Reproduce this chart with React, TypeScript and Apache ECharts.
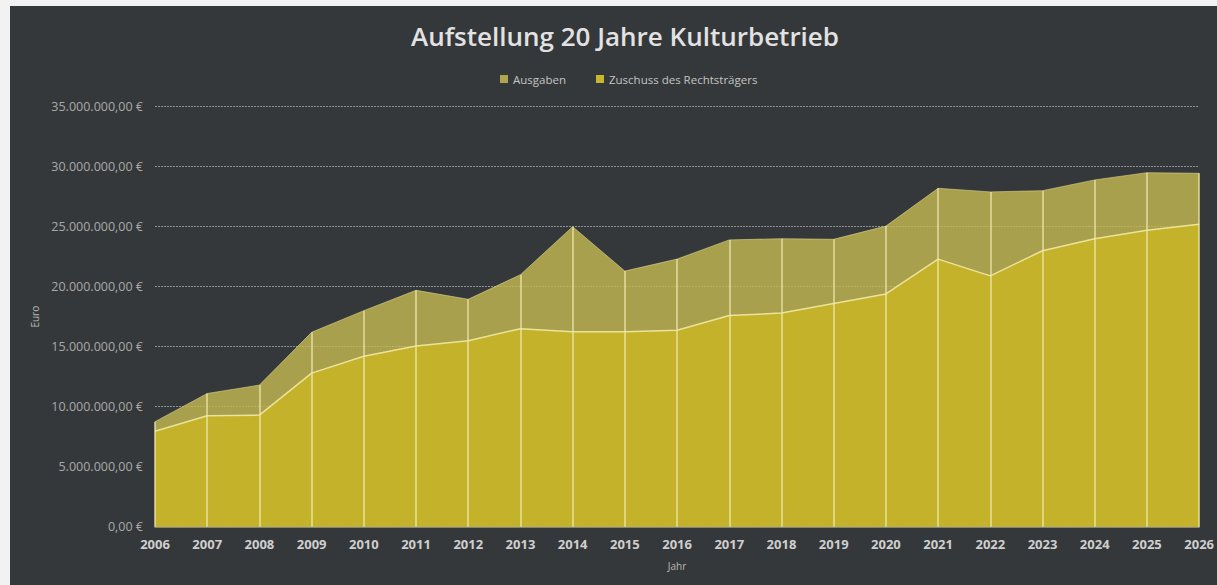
import React, { useEffect, useRef } from "react";
import * as echarts from "echarts";

const years = ["2006","2007","2008","2009","2010","2011","2012","2013","2014","2015","2016","2017","2018","2019","2020","2021","2022","2023","2024","2025","2026"];
const ausgaben = [8.75, 11.1, 11.8, 16.2, 18.0, 19.7, 18.95, 21.0, 25.0, 21.3, 22.3, 23.9, 24.0, 23.95, 25.05, 28.2, 27.9, 28.0, 28.9, 29.5, 29.45].map(v => v * 1e6);
const zuschuss = [7.95, 9.25, 9.3, 12.8, 14.2, 15.06, 15.5, 16.5, 16.25, 16.25, 16.37, 17.6, 17.8, 18.6, 19.4, 22.3, 20.9, 23.0, 24.0, 24.7, 25.2].map(v => v * 1e6);
const seriesNames = ["Ausgaben", "Zuschuss des Rechtsträgers"];
const titleText = "Aufstellung 20 Jahre Kulturbetrieb";

function fmtEuro(v: number): string {
  const whole = Math.round(v).toString();
  const grouped = whole.replace(/\B(?=(\d{3})+(?!\d))/g, ".");
  return grouped + ",00 €";
}

export default function App() {
  const ref = useRef<HTMLDivElement>(null);
  useEffect(() => {
    document.body.style.margin = "0";
    const chart = echarts.init(ref.current!, undefined, { renderer: "svg" });
    const font = "'Open Sans', 'Noto Sans', sans-serif";
    chart.setOption({
      animation: false,
      backgroundColor: "#35383a",
      textStyle: { fontFamily: font },
      title: {
        text: titleText,
        left: 396,
        top: 12,
        textStyle: { color: "#e2e2e2", fontSize: 26, fontWeight: 600, fontFamily: font },
      },
      legend: {
        top: 62,
        left: 485,
        icon: "rect",
        itemWidth: 8,
        itemHeight: 8,
        itemGap: 30,
        textStyle: { color: "#c4c4c4", fontSize: 11.5, fontFamily: font },
        data: seriesNames,
      },
      grid: { left: 145, right: 14, top: 100.7, bottom: 58.3, containLabel: false },
      xAxis: {
        type: "category",
        data: years,
        boundaryGap: false,
        name: "Jahr",
        nameLocation: "middle",
        nameGap: 34,
        nameTextStyle: { color: "#b8b8b8", fontSize: 10 },
        axisLine: { lineStyle: { color: "#9a9c9e", width: 1.5 } },
        axisTick: { show: false },
        axisLabel: { color: "#cfcfcf", fontSize: 13, fontWeight: "bold", margin: 11 },
        splitLine: { show: false },
      },
      yAxis: {
        type: "value",
        min: 0,
        max: 35000000,
        interval: 5000000,
        name: "Euro",
        nameLocation: "middle",
        nameGap: 115,
        nameTextStyle: { color: "#b8b8b8", fontSize: 10 },
        axisLine: { show: false },
        axisTick: { show: false },
        axisLabel: { color: "#a9a9a9", fontSize: 12.5, margin: 12, formatter: (v: number) => fmtEuro(v) },
        splitLine: { lineStyle: { color: "#8e9092", type: [2, 1], width: 1 } },
      },
      series: [
        {
          name: seriesNames[0],
          type: "line",
          data: ausgaben,
          symbol: "none",
          color: "#b0a64e",
          lineStyle: { color: "rgba(225,215,140,0.6)", width: 1 },
          areaStyle: { color: "rgba(197,186,83,0.8)", opacity: 1 },
          z: 2,
        },
        {
          name: seriesNames[1],
          type: "line",
          data: zuschuss,
          symbol: "none",
          color: "#c8b62c",
          lineStyle: { color: "#ece39a", width: 1.5 },
          areaStyle: { color: "#c4b22a", opacity: 1 },
          z: 3,
          markLine: {
            silent: true,
            symbol: ["none", "none"],
            label: { show: false },
            lineStyle: { color: "rgba(240,232,175,0.85)", type: "solid", width: 1.5 },
            data: years.map((y, i) => [
              { coord: [y, 0] },
              { coord: [y, ausgaben[i]] },
            ]),
          },
        },
      ],
    });
    return () => chart.dispose();
  }, []);
  return (
    <div style={{ position: "relative", width: 1217, height: 585, background: "#f2f2f2", overflow: "hidden" }}>
      <div ref={ref} style={{ position: "absolute", left: 10, top: 6, width: 1207, height: 579 }} />
    </div>
  );
}
